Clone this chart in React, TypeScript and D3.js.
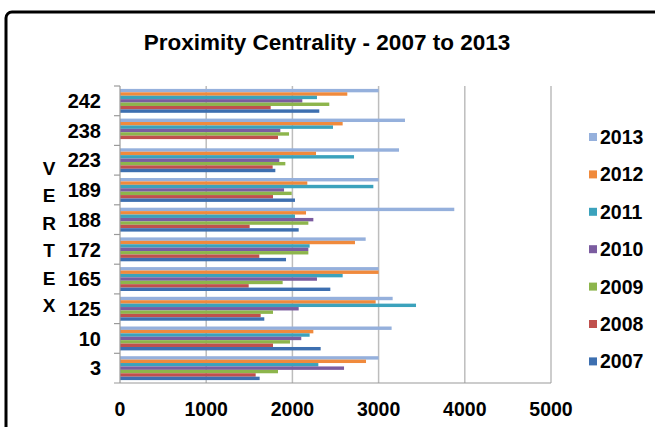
import React from "react";
import * as d3 from "d3";

const categories = ["242", "238", "223", "189", "188", "172", "165", "125", "10", "3"];
const seriesNames = ["2013", "2012", "2011", "2010", "2009", "2008", "2007"];
const s2013 = [3000, 3306, 3237, 3000, 3878, 2850, 3000, 3163, 3151, 3000];
const s2012 = [2637, 2583, 2274, 2173, 2158, 2726, 3000, 2966, 2243, 2854];
const s2011 = [2285, 2471, 2715, 2939, 2030, 2200, 2583, 3434, 2200, 2301];
const s2010 = [2115, 1860, 1848, 1903, 2243, 2185, 2285, 2073, 2103, 2599];
const s2009 = [2428, 1961, 1918, 1992, 2185, 2185, 1887, 1775, 1972, 1833];
const s2008 = [1748, 1833, 1771, 1775, 1504, 1616, 1493, 1632, 1775, 1574];
const s2007 = [2312, 0, 1802, 2030, 2073, 1926, 2440, 1674, 2328, 1620];
const xTicks = [0, 1000, 2000, 3000, 4000, 5000];
const axisLetters = ["V", "E", "R", "T", "E", "X"];

const seriesValues = [s2013, s2012, s2011, s2010, s2009, s2008, s2007];
const colors = ["#95B0DC", "#F08A3C", "#3BA2BC", "#7B5CA0", "#8DB54C", "#C0504D", "#3D6FB0"];

const FONT = "'Liberation Sans', Arial, sans-serif";

export default function App() {
  const W = 655, H = 427;
  const left = 120, right = 551, top = 86, bottom = 383;
  const x = d3.scaleLinear().domain([0, 5000]).range([left, right]);
  const y0 = d3.scaleBand<string>().domain(categories).range([top, bottom]).padding(0);
  const y1 = d3.scaleBand<string>().domain(seriesNames).range([0, y0.bandwidth()]).paddingInner(0).paddingOuter(0.85);

  return (
    <svg width={W} height={H} style={{ position: "absolute", left: 0, top: 0, background: "#fff" }}>
      <rect x={6} y={12} width={720} height={500} rx={6} fill="#fff" stroke="#000" strokeWidth={3} />
      <text x={327} y={50} textAnchor="middle" fontFamily={FONT} fontWeight="bold" fontSize={22.5} fill="#000">
        Proximity Centrality - 2007 to 2013
      </text>
      {xTicks.filter((t) => t > 0).map((t) => (
        <line key={t} x1={x(t)} x2={x(t)} y1={top} y2={bottom} stroke="#BDBDBD" strokeWidth={1.5} />
      ))}
      {categories.map((c, ci) =>
        seriesNames.map((s, si) => {
          const v = seriesValues[si][ci];
          if (!v) return null;
          return (
            <rect
              key={c + s}
              x={x(0)}
              y={(y0(c) as number) + (y1(s) as number)}
              width={x(v) - x(0)}
              height={y1.bandwidth()}
              fill={colors[si]}
            />
          );
        })
      )}
      <line x1={left} x2={left} y1={top} y2={bottom} stroke="#9A9A9A" strokeWidth={1.2} />
      <line x1={left - 6} x2={right} y1={bottom} y2={bottom} stroke="#9A9A9A" strokeWidth={1.2} />
      {categories.map((c) => (
        <line key={"t" + c} x1={left - 6} x2={left} y1={y0(c) as number} y2={y0(c) as number} stroke="#9A9A9A" strokeWidth={1.2} />
      ))}
      {categories.map((c) => (
        <text key={"l" + c} x={101} y={(y0(c) as number) + y0.bandwidth() / 2} dy="0.36em" textAnchor="end"
          fontFamily={FONT} fontWeight="bold" fontSize={20} fill="#000">
          {c}
        </text>
      ))}
      {xTicks.map((t) => (
        <text key={"x" + t} x={x(t)} y={416} textAnchor="middle" fontFamily={FONT} fontWeight="bold" fontSize={19.5} fill="#000">
          {t}
        </text>
      ))}
      {axisLetters.map((l, i) => (
        <text key={"v" + i} x={49} y={175 + i * 27.4} textAnchor="middle" fontFamily={FONT} fontWeight="bold" fontSize={19} fill="#000">
          {l}
        </text>
      ))}
      {seriesNames.map((s, i) => (
        <g key={"lg" + s} transform={`translate(589, ${137 + i * 37.4})`}>
          <rect x={0} y={-4} width={8} height={8} fill={colors[i]} />
          <text x={11} y={0} dy="0.36em" fontFamily={FONT} fontWeight="bold" fontSize={19.5} fill="#000">
            {s}
          </text>
        </g>
      ))}
    </svg>
  );
}
